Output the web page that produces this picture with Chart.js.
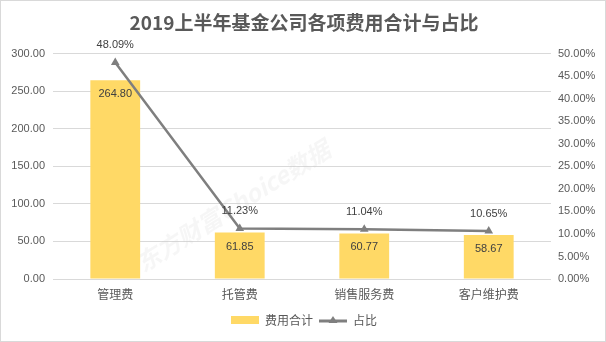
<!DOCTYPE html>
<html>
<head>
<meta charset="utf-8">
<script src="https://cdn.jsdelivr.net/npm/chart.js@4/dist/chart.umd.min.js"></script>
<style>
html,body{margin:0;padding:0;background:#fff;}
#wrap{position:relative;width:604px;height:340px;border:1px solid #d9d9d9;}
</style>
</head>
<body>
<div id="wrap"><canvas id="c" width="604" height="340"></canvas></div>
<script>
const categories = ['管理费', '托管费', '销售服务费', '客户维护费'];
const costTotals = [264.80, 61.85, 60.77, 58.67];
const sharePct = [48.09, 11.23, 11.04, 10.65];
const seriesNames = ['费用合计', '占比'];
const titleText = '2019上半年基金公司各项费用合计与占比';
const watermarkText = '东方财富Choice数据';

const BAR_COLOR = '#FFD966';
const LINE_COLOR = '#7F7F7F';
const TEXT_COLOR = '#595959';
const FONT = "'Noto Sans CJK SC', 'Liberation Sans', sans-serif";

function makeIcon(kind) {
  const cv = document.createElement('canvas');
  cv.width = 28; cv.height = 10;
  const g = cv.getContext('2d');
  if (kind === 'bar') {
    g.fillStyle = BAR_COLOR;
    g.fillRect(0, 1, 28, 8);
  } else {
    g.strokeStyle = LINE_COLOR;
    g.lineWidth = 3;
    g.beginPath(); g.moveTo(0, 6); g.lineTo(28, 6); g.stroke();
    g.fillStyle = LINE_COLOR;
    g.beginPath(); g.moveTo(14, 1); g.lineTo(18.5, 8); g.lineTo(9.5, 8); g.closePath(); g.fill();
  }
  return cv;
}
const icons = [makeIcon('bar'), makeIcon('line')];

const labelPlugin = {
  id: 'valueLabels',
  afterDatasetsDraw(chart) {
    const ctx = chart.ctx;
    ctx.save();
    ctx.font = "11px 'Liberation Sans', sans-serif";
    ctx.fillStyle = '#404040';
    ctx.textAlign = 'center';
    ctx.textBaseline = 'middle';
    const barMeta = chart.getDatasetMeta(0);
    barMeta.data.forEach((el, i) => {
      ctx.fillText(costTotals[i].toFixed(2), el.x, el.y + 14);
    });
    const lineMeta = chart.getDatasetMeta(1);
    lineMeta.data.forEach((el, i) => {
      ctx.fillText(sharePct[i].toFixed(2) + '%', el.x, el.y - 17);
    });
    ctx.restore();
  }
};

const watermarkPlugin = {
  id: 'watermark',
  beforeDatasetsDraw(chart) {
    const ctx = chart.ctx;
    ctx.save();
    ctx.translate(232, 205);
    ctx.rotate(-32 * Math.PI / 180);
    ctx.font = "italic bold 24px 'Noto Sans CJK SC', 'Liberation Serif', serif";
    ctx.fillStyle = 'rgba(200,200,200,0.16)';
    ctx.textAlign = 'center';
    ctx.textBaseline = 'middle';
    ctx.fillText(watermarkText, 0, 0);
    ctx.restore();
  }
};

new Chart(document.getElementById('c'), {
  data: {
    labels: categories,
    datasets: [
      {
        type: 'bar',
        label: seriesNames[0],
        data: costTotals,
        backgroundColor: BAR_COLOR,
        yAxisID: 'y',
        order: 1,
        categoryPercentage: 1,
        barPercentage: 0.4
      },
      {
        type: 'line',
        label: seriesNames[1],
        data: sharePct,
        borderColor: LINE_COLOR,
        backgroundColor: LINE_COLOR,
        borderWidth: 2.5,
        pointStyle: 'triangle',
        pointRadius: 5,
        pointBackgroundColor: LINE_COLOR,
        pointBorderWidth: 0,
        yAxisID: 'y1',
        order: 0,
        tension: 0
      }
    ]
  },
  options: {
    responsive: false,
    animation: false,
    devicePixelRatio: 1,
    layout: { padding: { left: 6, right: 4, top: 4, bottom: 5 } },
    plugins: {
      tooltip: { enabled: false },
      title: {
        display: true,
        text: titleText,
        color: TEXT_COLOR,
        font: { family: FONT, size: 19, weight: 'bold' },
        padding: { top: 6, bottom: 20 }
      },
      legend: {
        position: 'bottom',
        labels: {
          color: TEXT_COLOR,
          font: { family: FONT, size: 12 },
          usePointStyle: true,
          pointStyleWidth: 28,
          boxHeight: 10,
          padding: 6,
          sort: (a, b) => a.datasetIndex - b.datasetIndex,
          generateLabels(chart) {
            return chart.data.datasets.map((ds, i) => ({
              text: ds.label,
              datasetIndex: i,
              pointStyle: icons[i],
              fillStyle: ds.backgroundColor,
              strokeStyle: ds.backgroundColor,
              lineWidth: 0,
              hidden: false,
              fontColor: TEXT_COLOR
            }));
          }
        }
      }
    },
    scales: {
      x: {
        grid: { display: false },
        border: { display: false },
        ticks: { color: TEXT_COLOR, font: { family: FONT, size: 12 }, padding: 0 },
        afterFit(s) { s.height = 29; }
      },
      y: {
        position: 'left',
        min: 0, max: 300,
        ticks: {
          stepSize: 50,
          color: TEXT_COLOR,
          font: { family: "'Liberation Sans', sans-serif", size: 11 },
          padding: 8,
          callback: v => v.toFixed(2)
        },
        grid: { color: '#D9D9D9', drawTicks: false, lineWidth: 1 },
        border: { display: false },
        afterFit(s) { s.width = 46; }
      },
      y1: {
        position: 'right',
        min: 0, max: 50,
        ticks: {
          stepSize: 5,
          color: TEXT_COLOR,
          font: { family: "'Liberation Sans', sans-serif", size: 11 },
          padding: 7,
          callback: v => v.toFixed(2) + '%'
        },
        grid: { display: false, drawTicks: false },
        border: { display: false },
        afterFit(s) { s.width = 50; }
      }
    }
  },
  plugins: [labelPlugin, watermarkPlugin]
});
</script>
</body>
</html>
